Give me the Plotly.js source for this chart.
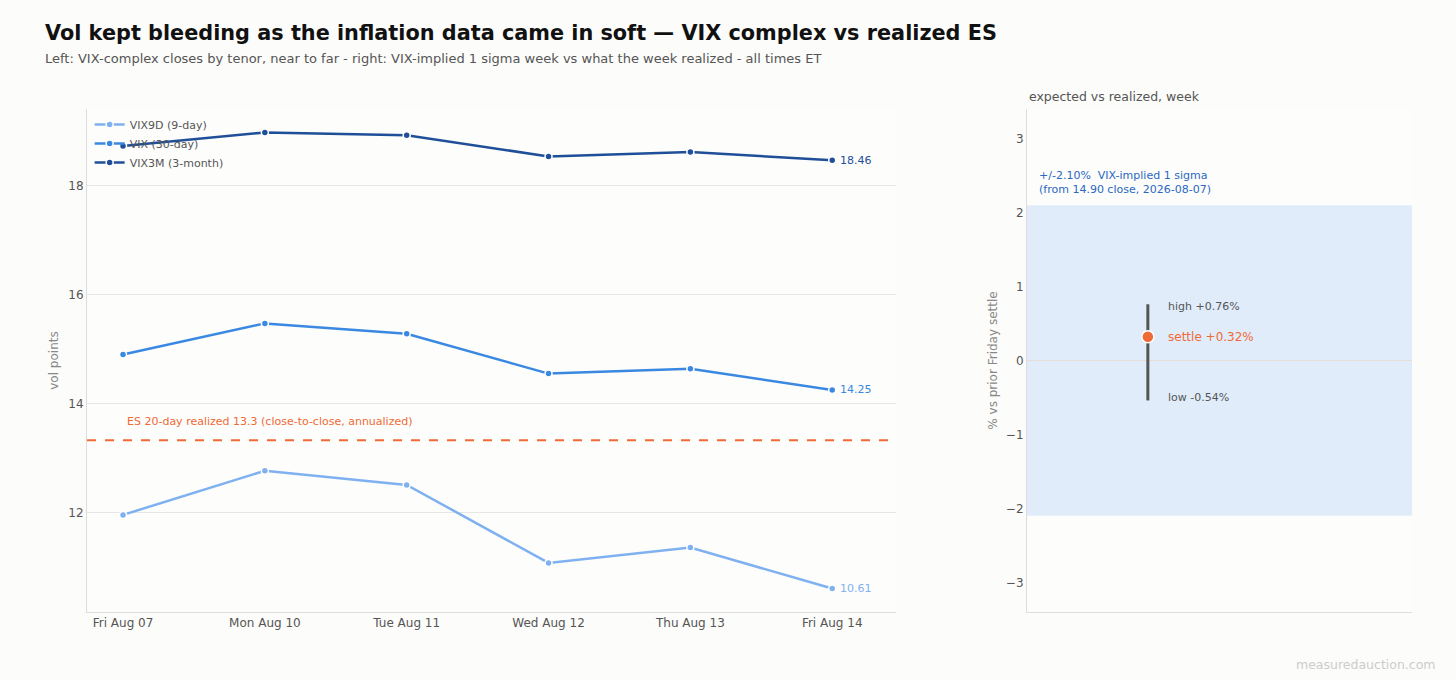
<!DOCTYPE html>
<html>
<head>
<meta charset="utf-8">
<script src="https://cdn.plot.ly/plotly-3.0.1.min.js"></script>
<style>
  html, body { margin: 0; padding: 0; background: #fcfcfa; }
  #chart { width: 1456px; height: 680px; }
</style>
</head>
<body>
<div id="chart"></div>
<script>
// left panel: VIX complex closes
let days = ["Fri Aug 07", "Mon Aug 10", "Tue Aug 11", "Wed Aug 12", "Thu Aug 13", "Fri Aug 14"];
let vix9d = [11.96, 12.77, 12.51, 11.08, 11.36, 10.61];
let vix = [14.90, 15.47, 15.28, 14.55, 14.64, 14.25];
let vix3m = [18.72, 18.97, 18.92, 18.53, 18.61, 18.46];
let es_realized = 13.33;

// right panel: expected vs realized week, % vs prior Friday settle
let sigma_move = 2.10;
let week_high = 0.76;
let week_low = -0.54;
let week_settle = 0.32;

let c9d = "#7fb1f0";
let cvix = "#3a88e2";
let c3m = "#1f4f98";
let orange = "#ef6a35";
let font = "DejaVu Sans, sans-serif";

function series(name, y, color) {
    return {
        x: days,
        y: y,
        mode: "lines+markers",
        name: name,
        line: { color: color, width: 2.5 },
        marker: { color: color, size: 7, line: { color: "#ffffff", width: 1.5 } },
        xaxis: "x",
        yaxis: "y",
        hoverinfo: "x+y+name"
    };
}

let range_bar = {
    x: [0.314, 0.314],
    y: [week_low, week_high],
    mode: "lines",
    showlegend: false,
    line: { color: "#555555", width: 3 },
    xaxis: "x2",
    yaxis: "y2"
};

let settle = {
    x: [0.314],
    y: [week_settle],
    mode: "markers",
    showlegend: false,
    marker: { color: orange, size: 12, line: { color: "#ffffff", width: 1.5 } },
    xaxis: "x2",
    yaxis: "y2"
};

let data = [series("VIX9D (9-day)", vix9d, c9d), series("VIX (30-day)", vix, cvix), series("VIX3M (3-month)", vix3m, c3m), range_bar, settle];

let last = days.length - 1;
function endLabel(y, color) {
    return {
        xref: "x", yref: "y", x: days[last], y: y,
        text: y.toFixed(2), showarrow: false,
        xanchor: "left", xshift: 6,
        font: { size: 11, color: color, family: font }
    };
}

function pct(v) {
    return (v >= 0 ? "+" : "") + v.toFixed(2) + "%";
}

let layout = {
    width: 1456,
    height: 680,
    paper_bgcolor: "#fcfcfa",
    plot_bgcolor: "#fdfdfc",
    font: { family: font, size: 12, color: "#555555" },
    margin: { l: 87, r: 44, t: 109, b: 68 },
    showlegend: true,
    legend: {
        x: 0.002, y: 0.998, xanchor: "left", yanchor: "top",
        bgcolor: "rgba(0,0,0,0)",
        font: { size: 11, color: "#555555" },
        tracegroupgap: 0
    },
    xaxis: {
        domain: [0, 0.6106],
        type: "category",
        range: [-0.254, 5.45],
        showgrid: false,
        showline: true, linecolor: "#dddddd", linewidth: 1,
        ticks: "", zeroline: false,
        tickfont: { size: 12, color: "#555555" }
    },
    yaxis: {
        domain: [0, 1],
        range: [10.18, 19.4],
        dtick: 2,
        showgrid: true, gridcolor: "#e6e6e6",
        showline: true, linecolor: "#dddddd",
        zeroline: false, ticks: "",
        tickfont: { size: 12, color: "#555555" },
        title: { text: "vol points", font: { size: 12, color: "#888888" }, standoff: 7 }
    },
    xaxis2: {
        domain: [0.7094, 1],
        range: [0, 1],
        showgrid: false, showticklabels: false, ticks: "",
        showline: true, linecolor: "#dddddd",
        zeroline: false
    },
    yaxis2: {
        domain: [0, 1],
        anchor: "x2",
        range: [-3.4, 3.4],
        dtick: 1,
        showgrid: false,
        showline: true, linecolor: "#dddddd",
        zeroline: true, zerolinecolor: "#e6ded6", zerolinewidth: 1,
        ticks: "",
        tickfont: { size: 12, color: "#555555" },
        title: { text: "% vs prior Friday settle", font: { size: 12, color: "#888888" }, standoff: 5 }
    },
    shapes: [
        {
            type: "rect", layer: "below",
            xref: "x2 domain", yref: "y2",
            x0: 0, x1: 1, y0: -sigma_move, y1: sigma_move,
            fillcolor: "#e0ecfa", line: { width: 0 }
        },
        {
            type: "line", layer: "above",
            xref: "x domain", yref: "y",
            x0: 0, x1: 1, y0: es_realized, y1: es_realized,
            line: { color: orange, width: 2, dash: "dash" }
        }
    ],
    annotations: [
        {
            xref: "paper", yref: "paper", x: -0.0335, y: 1.151,
            xanchor: "left", yanchor: "middle", showarrow: false,
            text: "<b>Vol kept bleeding as the inflation data came in soft — VIX complex vs realized ES</b>",
            font: { size: 20.8, color: "#111111", family: font }
        },
        {
            xref: "paper", yref: "paper", x: -0.0335, y: 1.101,
            xanchor: "left", yanchor: "middle", showarrow: false,
            text: "Left: VIX-complex closes by tenor, near to far - right: VIX-implied 1 sigma week vs what the week realized - all times ET",
            font: { size: 13, color: "#555555", family: font }
        },
        endLabel(vix3m[last], c3m),
        endLabel(vix[last], cvix),
        endLabel(vix9d[last], c9d),
        {
            xref: "x", yref: "y", x: 0, y: es_realized,
            xanchor: "left", yanchor: "bottom", yshift: 10, xshift: 2, showarrow: false,
            text: "ES 20-day realized " + es_realized.toFixed(1) + " (close-to-close, annualized)",
            font: { size: 11, color: orange, family: font }
        },
        {
            xref: "x2 domain", yref: "y2 domain", x: 0, y: 1,
            xanchor: "left", yanchor: "bottom", yshift: 3, showarrow: false,
            text: "expected vs realized, week",
            font: { size: 12.5, color: "#555555", family: font }
        },
        {
            xref: "x2", yref: "y2", x: 0.026, y: 2.41,
            xanchor: "left", yanchor: "middle", align: "left", showarrow: false,
            text: "+/-" + sigma_move.toFixed(2) + "%  VIX-implied 1 sigma<br>(from " + vix[0].toFixed(2) + " close, 2026-08-07)",
            font: { size: 11, color: "#2a68c2", family: font }
        },
        {
            xref: "x2", yref: "y2", x: 0.36, y: week_high - 0.03,
            xanchor: "left", yanchor: "middle", showarrow: false,
            text: "high " + pct(week_high),
            font: { size: 11, color: "#555555", family: font }
        },
        {
            xref: "x2", yref: "y2", x: 0.36, y: week_settle,
            xanchor: "left", yanchor: "middle", showarrow: false,
            text: "settle " + pct(week_settle),
            font: { size: 12, color: orange, family: font }
        },
        {
            xref: "x2", yref: "y2", x: 0.36, y: week_low + 0.04,
            xanchor: "left", yanchor: "middle", showarrow: false,
            text: "low " + pct(week_low),
            font: { size: 11, color: "#555555", family: font }
        },
        {
            xref: "paper", yref: "paper", x: 1.0196, y: -0.105,
            xanchor: "right", yanchor: "middle", showarrow: false,
            text: "measuredauction.com",
            font: { size: 12.5, color: "#cccccc", family: font }
        }
    ]
};

Plotly.newPlot("chart", data, layout, { displayModeBar: false });
</script>
</body>
</html>
